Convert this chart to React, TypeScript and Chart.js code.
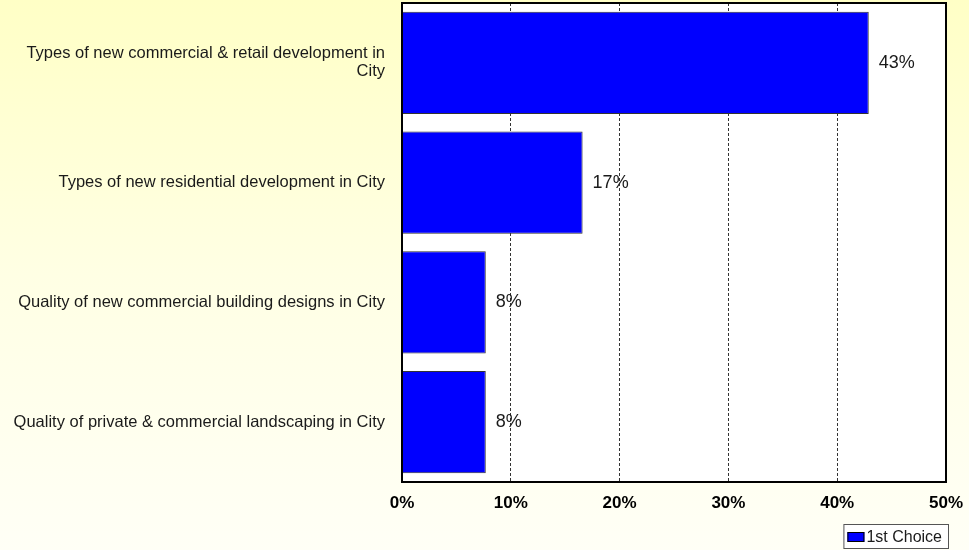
import React, { useEffect, useRef } from 'react';
import { Chart, registerables } from 'chart.js';

Chart.register(...registerables);

const categories: (string | string[])[] = [
  ['Types of new commercial & retail development in', 'City'],
  'Types of new residential development in City',
  'Quality of new commercial building designs in City',
  'Quality of private & commercial landscaping in City',
];
const values = [42.9, 16.6, 7.7, 7.7];
const valueLabels = ['43%', '17%', '8%', '8%'];
const xMin = 0;
const xMax = 50;
const xStep = 10;
const seriesName = '1st Choice';

const FONT = "'Liberation Sans', Arial, sans-serif";

const plotBg = {
  id: 'plotBg',
  beforeDraw(chart: any) {
    const { ctx, chartArea: a } = chart;
    ctx.save();
    ctx.fillStyle = '#ffffff';
    ctx.fillRect(a.left, a.top, a.right - a.left, a.bottom - a.top);
    ctx.restore();
  },
};

const frame = {
  id: 'frame',
  afterDraw(chart: any) {
    const { ctx, chartArea: a } = chart;
    ctx.save();
    ctx.strokeStyle = '#000000';
    ctx.lineWidth = 2;
    ctx.strokeRect(a.left, a.top, a.right - a.left, a.bottom - a.top);
    ctx.restore();
  },
};

const barLabels = {
  id: 'barLabels',
  afterDatasetsDraw(chart: any) {
    const { ctx } = chart;
    const meta = chart.getDatasetMeta(0);
    ctx.save();
    ctx.font = `18px ${FONT}`;
    ctx.fillStyle = '#1a1a1a';
    ctx.textAlign = 'left';
    ctx.textBaseline = 'middle';
    meta.data.forEach((el: any, i: number) => {
      ctx.fillText(valueLabels[i], el.x + 10, el.y);
    });
    ctx.restore();
  },
};

const legendBox = {
  id: 'legendBox',
  afterDraw(chart: any) {
    const { ctx, width, height } = chart;
    const ds = chart.data.datasets[0];
    ctx.save();
    ctx.font = `16px ${FONT}`;
    const tw = ctx.measureText(ds.label).width;
    const boxW = 23 + tw + 7;
    const boxH = 25;
    const x = width - 20 - boxW;
    const y = height - 26;
    ctx.fillStyle = '#ffffff';
    ctx.fillRect(x, y, boxW, boxH);
    ctx.strokeStyle = '#555555';
    ctx.lineWidth = 1;
    ctx.strokeRect(x + 0.5, y + 0.5, boxW - 1, boxH - 1);
    ctx.fillStyle = ds.backgroundColor;
    ctx.fillRect(x + 4, y + 8, 17, 10);
    ctx.strokeStyle = '#000000';
    ctx.strokeRect(x + 4.5, y + 8.5, 16, 9);
    ctx.fillStyle = '#1a1a1a';
    ctx.textBaseline = 'middle';
    ctx.fillText(ds.label, x + 23, y + boxH / 2 + 1);
    ctx.restore();
  },
};

export default function App() {
  const ref = useRef<HTMLCanvasElement | null>(null);

  useEffect(() => {
    document.body.style.margin = '0';
    if (!ref.current) return;
    const chart = new Chart(ref.current, {
      type: 'bar',
      data: {
        labels: categories,
        datasets: [
          {
            label: seriesName,
            data: values,
            backgroundColor: '#0000ff',
            borderColor: '#333333',
            borderWidth: 1,
            barPercentage: 0.852,
            categoryPercentage: 1,
          },
        ],
      },
      options: {
        indexAxis: 'y',
        animation: false,
        responsive: false,
        maintainAspectRatio: false,
        layout: { padding: { left: 0, right: 23, top: 3, bottom: 0 } },
        plugins: {
          legend: { display: false },
          tooltip: { enabled: false },
        },
        scales: {
          x: {
            min: xMin,
            max: xMax,
            ticks: {
              stepSize: xStep,
              padding: 11,
              color: '#000000',
              font: { family: FONT, size: 17, weight: 'bold' },
              callback: (v: any) => `${v}%`,
            },
            grid: {
              drawTicks: false,
              color: (c: any) =>
                c.tick && (c.tick.value === xMin || c.tick.value === xMax) ? 'rgba(0,0,0,0)' : '#333333',
              lineWidth: 1,
            },
            border: { display: false, dash: [3, 2] },
            afterFit: (scale: any) => {
              scale.height = 68;
              scale.paddingLeft = 0;
              scale.paddingRight = 0;
            },
          },
          y: {
            ticks: {
              padding: 17,
              color: '#1a1a1a',
              font: { family: FONT, size: 16.5, lineHeight: 1.1 },
            },
            grid: { display: false, drawTicks: false },
            border: { display: false },
            afterFit: (scale: any) => {
              scale.width = 402;
              scale.paddingTop = 0;
              scale.paddingBottom = 0;
            },
          },
        },
      },
      plugins: [plotBg, barLabels, frame, legendBox],
    });
    return () => chart.destroy();
  }, []);

  return (
    <div
      style={{
        width: 969,
        height: 550,
        background: 'linear-gradient(to bottom, #ffffc6 0%, #ffffe4 50%, #fffff6 100%)',
      }}
    >
      <canvas ref={ref} width={969} height={550} style={{ display: 'block' }} />
    </div>
  );
}
